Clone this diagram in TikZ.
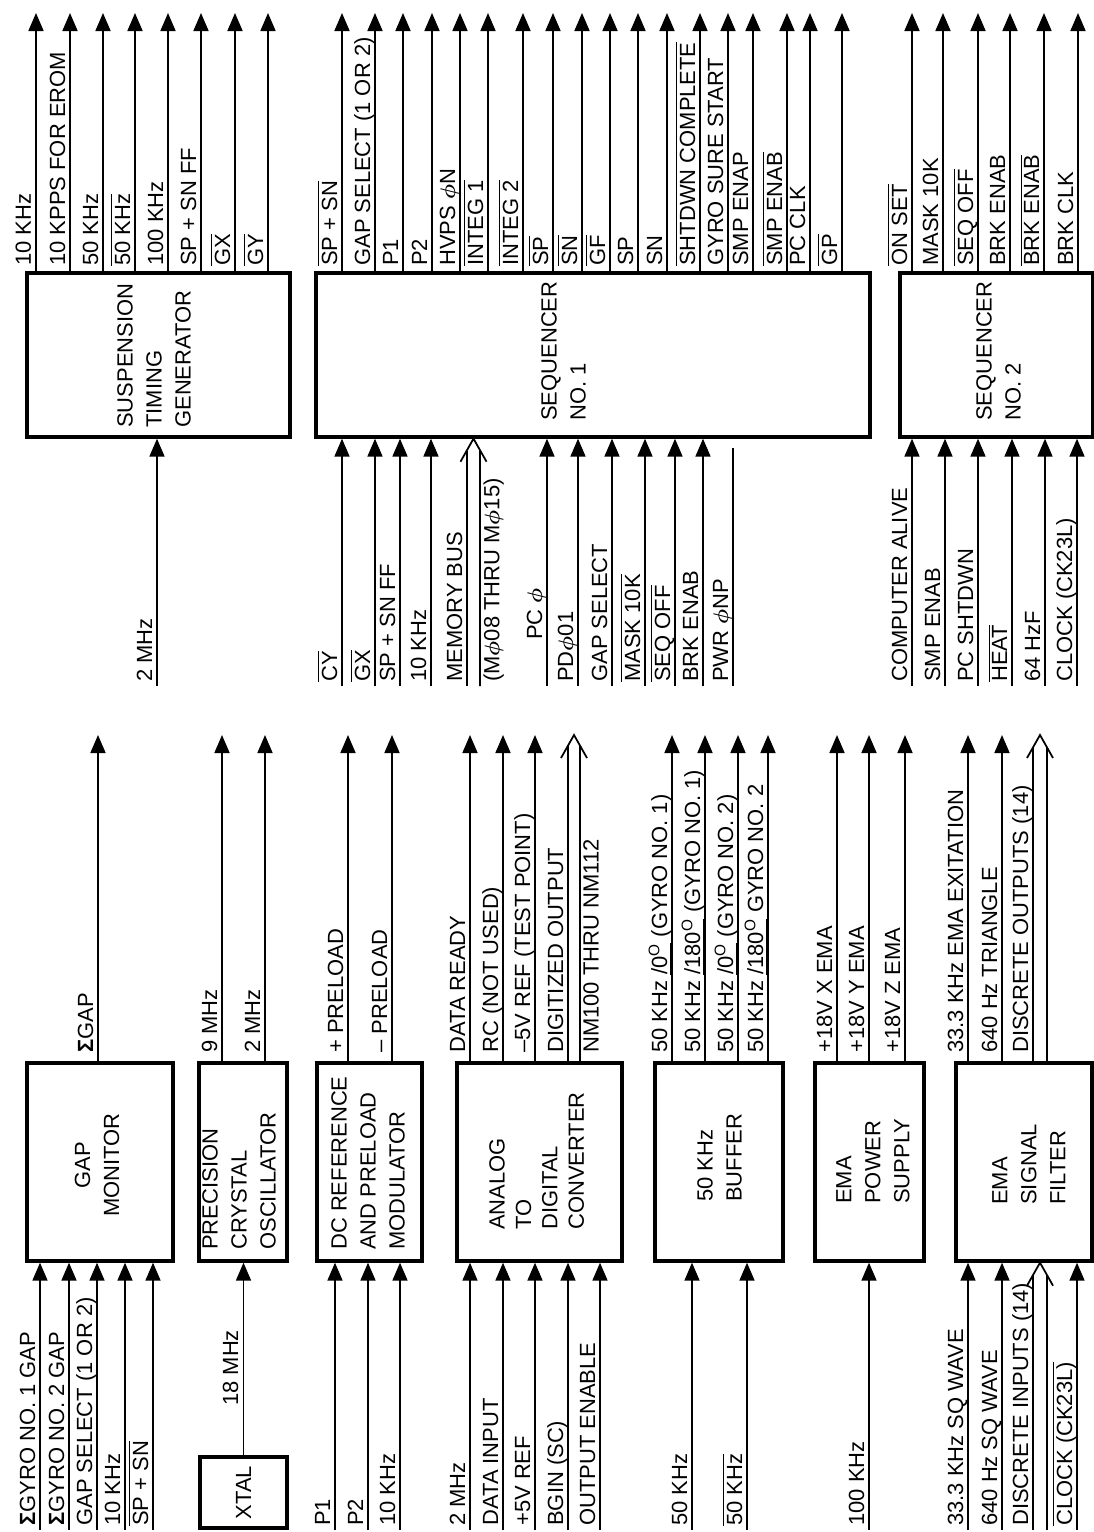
\documentclass[tikz,border=0pt]{standalone}
\usepackage{amsmath}
\usepackage{fontspec}
\setmainfont{Liberation Sans}
\usetikzlibrary{arrows.meta, fit}

\newcommand\sigfont{\fontsize{12.5}{14}\selectfont}
\newcommand\blkfont{\fontsize{12.5}{16.5}\selectfont}
\newcommand\ovl[1]{$\overline{\mbox{#1}}$}
\newcommand\ph{$\boldsymbol{\phi}$}
\newcommand\sgm{\textbf{Σ}}
\newcommand\phs[1]{\underline{/#1\textsuperscript{O}}}

\tikzset{
  blk/.style={draw, line width=1.9pt, inner sep=0pt},
  sig/.style={line width=1pt},
  arr/.style={sig, -{Triangle[length=0.36cm, width=0.3cm]}},
  lbl/.style={rotate=90, anchor=base west, inner sep=0pt, font=\sigfont},
  rlbl/.style={rotate=90, anchor=north west, inner sep=0pt, font=\sigfont},
  blktxt/.style={rotate=90, anchor=north west, align=left, inner sep=0pt, font=\blkfont}
}

\begin{document}
\begin{tikzpicture}[x=0.02cm, y=-0.02cm]
\useasboundingbox (0,0) rectangle (1094,1532);

% upper row of blocks
\node[blk, fit={(27,273) (290,437)}] (stg) {};
\node[blk, fit={(316,273) (870,437)}] (seqa) {};
\node[blk, fit={(900,273) (1093,437)}] (seqb) {};
\node[blktxt] (stg-t) at (117,428) {SUSPENSION\\TIMING\\GENERATOR};
\node[blktxt] (seqa-t) at (541,421) {SEQUENCER\\NO. 1};
\node[blktxt] (seqb-t) at (976,421) {SEQUENCER\\NO. 2};

% upper row, outputs
\foreach \b/\x/\t [count=\i] in {stg/36/10 KHz, stg/70/10 KPPS FOR EROM, stg/103/50 KHz,
  stg/135/\ovl{50 KHz}, stg/168/100 KHz, stg/201/SP + SN FF, stg/235/\ovl{GX}, stg/268/\ovl{GY},
  seqa/342/\ovl{SP + SN}, seqa/375/GAP SELECT (1 OR 2), seqa/403/P1, seqa/432/P2,
  seqa/460/HVPS \ph N, seqa/488/\ovl{INTEG 1}, seqa/523/\ovl{INTEG 2}, seqa/553/\ovl{SP},
  seqa/582/\ovl{SN}, seqa/610/\ovl{GF}, seqa/638/SP, seqa/667/SN,
  seqa/700/\ovl{SHTDWN COMPLETE}, seqa/728/GYRO SURE START, seqa/753/SMP ENAP,
  seqa/787/\ovl{SMP ENAB}, seqa/810/PC CLK, seqa/842/\ovl{GP},
  seqb/912/\ovl{ON SET}, seqb/943/MASK 10K, seqb/978/\ovl{SEQ OFF}, seqb/1010/BRK ENAB,
  seqb/1044/\ovl{BRK ENAB}, seqb/1078/BRK CLK} {
  \coordinate (uo\i) at (\x,13);
  \draw[arr] (\x,0 |- \b.north) -- (uo\i);
  \node[lbl] (uol\i) at (\x-5,266) {\t};
}

% upper row, inputs
\foreach \b/\x/\t [count=\i] in {stg/157/2 MHz, seqa/342/\ovl{CY}, seqa/375/\ovl{GX},
  seqa/400/SP + SN FF, seqa/431/10 KHz, seqa/578/PD\ph01, seqa/612/GAP SELECT,
  seqa/645/\ovl{MASK 10K}, seqa/675/\ovl{SEQ OFF}, seqa/703/BRK ENAB,
  seqb/912/COMPUTER ALIVE, seqb/945/SMP ENAB, seqb/978/PC SHTDWN, seqb/1012/\ovl{HEAT},
  seqb/1045/64 HzF, seqb/1077/CLOCK (CK23L)} {
  \coordinate (ui\i) at (\x,686);
  \draw[arr] (ui\i) -- (ui\i |- \b.south);
  \node[lbl] (uil\i) at (\x-5,682) {\t};
}
\coordinate (pc) at (547,686);
\draw[arr] (pc) -- (pc |- seqa.south);
\node[lbl] (pc-l) at (542,640) {PC \ph};
\coordinate (pwr) at (733,686);
\coordinate (pwr-end) at (733,448);
\draw[sig] (pwr) -- (pwr-end);
\node[lbl] (pwr-l) at (728,682) {PWR \ph NP};

% memory bus
\coordinate (mbus) at (473.5,0 |- seqa.south);
\draw[sig] (467,686) -- ([shift={(-6.5,12)}]mbus);
\draw[sig] (480,686) -- ([shift={(6.5,12)}]mbus);
\draw[sig] ([shift={(-13,23)}]mbus) -- (mbus) -- ([shift={(13,23)}]mbus);
\node[lbl] (mbus-l) at (462,682) {MEMORY BUS};
\node[rlbl] (mbus-r) at (483,682) {(M\ph08 THRU M\ph15)};

% lower row of blocks
\node[blk, fit={(27,1063) (173,1261)}] (gapmon) {};
\node[blk, fit={(199,1063) (287,1261)}] (osc) {};
\node[blk, fit={(200,1457) (287,1528)}] (xtal) {};
\node[blk, fit={(317,1063) (422,1261)}] (dcref) {};
\node[blk, fit={(457,1063) (622,1261)}] (adc) {};
\node[blk, fit={(655,1063) (783,1261)}] (buf) {};
\node[blk, fit={(815,1063) (924,1261)}] (emaps) {};
\node[blk, fit={(956,1063) (1092,1261)}] (emasf) {};
\node[blktxt, align=center, anchor=center] (gapmon-t) at (97,1165) {GAP\\MONITOR};
\node[blktxt] (osc-t) at (202,1250) {PRECISION\\CRYSTAL\\OSCILLATOR};
\node[rotate=90, font=\blkfont] (xtal-t) at (xtal.center) {XTAL};
\node[blktxt] (dcref-t) at (331,1250) {DC REFERENCE\\AND PRELOAD\\MODULATOR};
\node[blktxt, font=\fontsize{12.5}{15}\selectfont] (adc-t) at (489,1230) {ANALOG\\TO\\DIGITAL\\CONVERTER};
\node[blktxt] (buf-t) at (697,1202) {50 KHz\\BUFFER};
\node[blktxt] (emaps-t) at (836,1204) {EMA\\POWER\\SUPPLY};
\node[blktxt] (emasf-t) at (992,1205) {EMA\\SIGNAL\\FILTER};

\draw[arr] (xtal.north) -- (xtal.north |- osc.south);
\node[lbl] (xtal-l) at (238,1406) {18 MHz};

% lower row, outputs
\foreach \b/\x/\t [count=\i] in {gapmon/98/\sgm GAP, osc/222/9 MHz, osc/265/2 MHz,
  dcref/348/+ PRELOAD, dcref/392/– PRELOAD, adc/470/DATA READY, adc/503/RC (NOT USED),
  adc/535/–5V REF (TEST POINT), buf/672/50 KHz \phs{0} (GYRO NO. 1),
  buf/705/50 KHz \phs{180} (GYRO NO. 1), buf/738/50 KHz \phs{0} (GYRO NO. 2),
  buf/768/50 KHz \phs{180} GYRO NO. 2, emaps/837/+18V X EMA, emaps/869/+18V Y EMA,
  emaps/905/+18V Z EMA, emasf/968/33.3 KHz EMA EXITATION, emasf/1002/640 Hz TRIANGLE} {
  \coordinate (lo\i) at (\x,735);
  \draw[arr] (\x,0 |- \b.north) -- (lo\i);
  \node[lbl] (lol\i) at (\x-5,1053) {\t};
}

% lower row, inputs
\foreach \b/\x/\t [count=\i] in {gapmon/40/\sgm GYRO NO. 1 GAP, gapmon/69/\sgm GYRO NO. 2 GAP,
  gapmon/97/GAP SELECT (1 OR 2), gapmon/125/10 KHz, gapmon/153/\ovl{SP + SN},
  dcref/335/P1, dcref/368/P2, dcref/400/10 KHz,
  adc/470/2 MHz, adc/503/DATA INPUT, adc/535/+5V REF, adc/568/BGIN (SC), adc/600/OUTPUT ENABLE,
  buf/692/50 KHz, buf/747/\ovl{50 KHz}, emaps/869/100 KHz,
  emasf/968/33.3 KHz SQ WAVE, emasf/1002/640 Hz SQ WAVE, emasf/1077/\ovl{CLOCK (CK23L)}} {
  \coordinate (li\i) at (\x,1530);
  \draw[arr] (li\i) -- (li\i |- \b.south);
  \node[lbl] (lil\i) at (\x-5,1526) {\t};
}

% digitized output bus
\coordinate (adc-bus) at (574,735);
\draw[sig] (568,0 |- adc.north) -- ([shift={(-6,11)}]adc-bus);
\draw[sig] (580,0 |- adc.north) -- ([shift={(6,11)}]adc-bus);
\draw[sig] ([shift={(-13,23)}]adc-bus) -- (adc-bus) -- ([shift={(13,23)}]adc-bus);
\node[lbl] (adc-bus-l) at (563,1053) {DIGITIZED OUTPUT};
\node[rlbl] (adc-bus-r) at (583,1053) {NM100 THRU NM112};

% discrete outputs bus
\coordinate (do-bus) at (1040,735);
\draw[sig] (1033,0 |- emasf.north) -- ([shift={(-7,12)}]do-bus);
\draw[sig] (1047,0 |- emasf.north) -- ([shift={(7,12)}]do-bus);
\draw[sig] ([shift={(-13,23)}]do-bus) -- (do-bus) -- ([shift={(13,23)}]do-bus);
\node[lbl] (do-bus-l) at (1028,1053) {DISCRETE OUTPUTS (14)};

% discrete inputs bus
\coordinate (di-bus) at (1040,0 |- emasf.south);
\draw[sig] (1033,1530) -- ([shift={(-7,12)}]di-bus);
\draw[sig] (1047,1530) -- ([shift={(7,12)}]di-bus);
\draw[sig] ([shift={(-13,23)}]di-bus) -- (di-bus) -- ([shift={(13,23)}]di-bus);
\node[lbl] (di-bus-l) at (1028,1526) {DISCRETE INPUTS (14)};
\end{tikzpicture}
\end{document}
